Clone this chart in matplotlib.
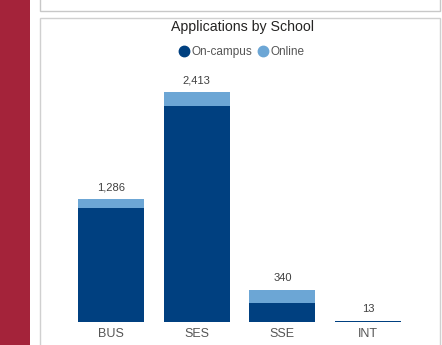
import matplotlib
matplotlib.use("Agg")
import matplotlib.pyplot as plt
from matplotlib.patches import Rectangle
from matplotlib.lines import Line2D

schools = ["BUS", "SES", "SSE", "INT"]
on_campus = [1199, 2266, 196, 8]
online = [87, 147, 144, 5]
totals = [a + b for a, b in zip(on_campus, online)]
series_names = ["On-campus", "Online"]

DARK = "#004080"
LIGHT = "#6CA6D5"
W, H = 442, 345

plt.rcParams["font.family"] = ["Liberation Sans", "DejaVu Sans"]
fig = plt.figure(figsize=(W / 100, H / 100), dpi=100)
fig.patch.set_facecolor("#ffffff")

def px_rect(x0, y0, x1, y1, **kw):
    # pixel coords from top-left
    fig.patches.append(Rectangle((x0 / W, 1 - y1 / H), (x1 - x0) / W, (y1 - y0) / H,
                                 transform=fig.transFigure, figure=fig, zorder=-5, **kw))

# red sidebar
px_rect(0, 0, 30, H, facecolor="#A4233A", edgecolor="none")
# top panel
px_rect(39.5, -5, 439.5, 10.5, facecolor="white", edgecolor="#C8C8C8", linewidth=1)
# chart panel
px_rect(39.5, 17.5, 439.5, H + 5, facecolor="white", edgecolor="#D0D0D0", linewidth=1)

# axes
L = 68.2
R = 410.9
base = 322
top = 92
ax = fig.add_axes([L / W, 1 - base / H, (R - L) / W, (base - top) / H])
ax.set_facecolor("none")
x = range(len(schools))
ax.bar(x, on_campus, width=0.77, color=DARK)
ax.bar(x, online, bottom=on_campus, width=0.77, color=LIGHT)
ax.set_xlim(-0.5, 3.5)
ax.set_ylim(0, max(totals))
for i, t in enumerate(totals):
    ax.annotate(f"{t:,}", (i, t), xytext=(0, 5), textcoords="offset points",
                ha="center", va="bottom", fontsize=8, color="#404040", annotation_clip=False)
ax.set_yticks([])
ax.set_xticks(list(x))
ax.set_xticklabels(schools, fontsize=9, color="#555555")
ax.tick_params(axis="x", length=0, pad=4)
for s in ax.spines.values():
    s.set_visible(False)

fig.text(242 / W, 1 - 27 / H, "Applications by School", ha="center", va="center",
         fontsize=10.2, color="#252423")

handles = [Line2D([], [], marker="o", linestyle="none", markersize=7.5, color=DARK),
           Line2D([], [], marker="o", linestyle="none", markersize=7.5, color=LIGHT)]
fig.legend(handles, series_names, loc="center", bbox_to_anchor=(241 / W, 1 - 52 / H),
           ncol=2, frameon=False, fontsize=8.5, handletextpad=0.15, columnspacing=0.4,
           handlelength=1.0, labelcolor="#555555")

fig.savefig("out.png", dpi=100)
